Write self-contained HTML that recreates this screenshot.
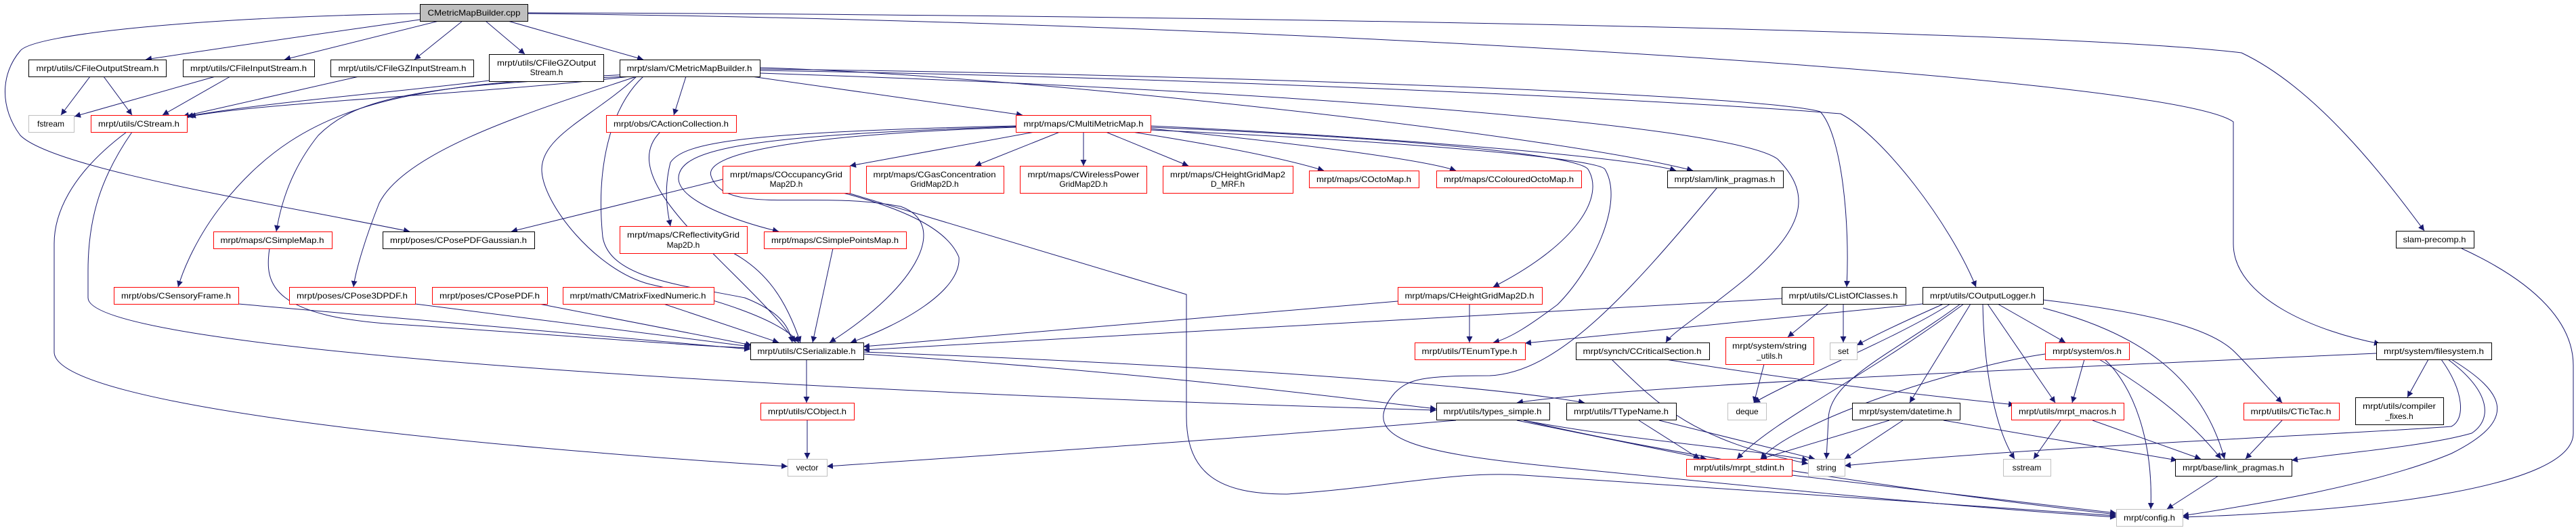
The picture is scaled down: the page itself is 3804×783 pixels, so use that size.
<!DOCTYPE html>
<html><head><meta charset="utf-8"><style>
html,body{margin:0;padding:0;background:#fff;}
svg{display:block;}
text{font-family:"Liberation Sans",sans-serif;font-size:12px;fill:#000;}
.e{fill:none;stroke:#191970;stroke-width:1;}
</style></head><body>
<svg width="3804" height="783" viewBox="0 0 3804 783" xmlns="http://www.w3.org/2000/svg">
<defs><marker id="a" viewBox="0 0 10 10" refX="10" refY="5" markerWidth="9" markerHeight="9" orient="auto" markerUnits="userSpaceOnUse"><path d="M0,0 L10,5 L0,10 z" fill="#191970"/></marker></defs>
<g class="e" marker-end="url(#a)">
<path d="M620,29 Q400,60 215,88"/>
<path d="M648,31 L420,88"/>
<path d="M683,31 L612,88"/>
<path d="M717,31 L775,80"/>
<path d="M750,31 L950,88"/>
<path d="M620,20 C300,25 50,50 30,75 C0,110 0,160 30,200 C80,250 400,300 605,342"/>
<path d="M779,19 C1500,20 3000,40 3310,78 C3420,130 3520,260 3580,341"/>
<path d="M779,20 C1800,30 3200,110 3298,180 L3298,360 C3298,440 3420,490 3515,508"/>
<path d="M133,113 L90,170"/>
<path d="M153,113 L195,170"/>
<path d="M318,113 L110,172"/>
<path d="M340,113 L240,170"/>
<path d="M530,113 L270,172"/>
<path d="M722,119 C600,135 400,150 276,172"/>
<path d="M930,113 C700,140 400,150 280,172"/>
<path d="M1013,113 L995,170"/>
<path d="M1110,113 L1510,170"/>
<path d="M930,113 C600,125 520,150 470,200 C430,250 415,300 408,342"/>
<path d="M930,110 C600,125 450,150 330,300 C290,350 270,400 263,424"/>
<path d="M940,113 C800,160 600,220 560,300 C540,350 525,400 522,424"/>
<path d="M1067,265 L755,342"/>
<path d="M940,113 C880,170 800,200 800,250 C800,300 880,400 960,420 C1050,440 1150,470 1180,506"/>
<path d="M950,113 C900,160 880,250 890,350 C900,410 1000,420 1100,440 C1150,460 1165,480 1170,506"/>
<path d="M1122,100 C1500,110 2300,200 2500,252"/>
<path d="M1122,102 C1800,110 2600,140 2688,165 C2720,200 2732,330 2727,424"/>
<path d="M1122,104 C1800,115 2500,150 2718,168 C2780,200 2880,330 2918,424"/>
<path d="M1122,108 C1800,130 2550,180 2625,235 C2680,290 2660,340 2580,410 C2520,460 2470,490 2460,506"/>
<path d="M1528,195 L1255,245"/>
<path d="M1565,195 L1440,245"/>
<path d="M1600,195 L1600,245"/>
<path d="M1633,195 L1755,245"/>
<path d="M1672,195 C1800,215 1900,235 1955,252"/>
<path d="M1699,190 C1900,210 2100,235 2150,252"/>
<path d="M1699,186 C2000,200 2400,230 2475,252"/>
<path d="M1699,188 C2100,205 2330,230 2345,250 C2370,290 2330,360 2205,424"/>
<path d="M1699,192 C2100,210 2360,235 2370,250 C2400,300 2350,400 2300,450 C2260,480 2230,500 2205,506"/>
<path d="M1500,186 C1100,195 1010,210 990,240 C980,280 985,310 990,334"/>
<path d="M1500,187 C1100,200 1000,220 1002,265 C1005,300 1100,330 1150,342"/>
<path d="M1500,188 C1150,200 1040,230 1050,260 C1070,320 1200,280 1330,305 C1400,330 1360,420 1225,506"/>
<path d="M1245,285 C1340,310 1400,340 1416,380 C1420,430 1330,480 1256,506"/>
<path d="M1252,285 C1500,360 1700,420 1752,435 L1752,615 C1752,700 1800,730 1900,730 C2050,720 2150,695 2250,702 C2500,720 2900,745 3125,762"/>
<path d="M1191,531 L1191,595"/>
<path d="M1275,523 C1700,550 2000,590 2121,604"/>
<path d="M1275,520 C1800,540 2200,570 2340,595"/>
<path d="M1192,621 L1192,678"/>
<path d="M187,195 C100,260 80,320 80,360 L80,520 C80,600 700,660 1163,689"/>
<path d="M195,195 C150,260 130,320 130,400 L130,440 C130,520 1200,580 2121,606"/>
<path d="M352,449 L1108,516"/>
<path d="M613,449 L1108,512"/>
<path d="M796,449 L1110,510"/>
<path d="M980,449 L1150,506"/>
<path d="M398,367 C390,420 400,470 600,480 C900,500 1000,510 1108,514"/>
<path d="M975,195 C900,270 1100,400 1175,506"/>
<path d="M1083,374 C1130,400 1160,440 1182,506"/>
<path d="M1230,367 L1200,506"/>
<path d="M2064,445 L1275,512"/>
<path d="M2631,441 L1275,517"/>
<path d="M2170,449 L2170,506"/>
<path d="M2700,449 L2640,498"/>
<path d="M2722,449 L2722,506"/>
<path d="M2839,449 L2252,507"/>
<path d="M2870,449 C2800,480 2760,500 2742,510"/>
<path d="M2880,449 C2800,500 2650,560 2590,595"/>
<path d="M2895,449 C2800,520 2700,560 2700,620 L2697,678"/>
<path d="M2900,449 C2750,560 2620,620 2565,678"/>
<path d="M2910,449 L2820,595"/>
<path d="M2950,449 L3050,506"/>
<path d="M2935,449 L3035,595"/>
<path d="M2928,449 C2930,560 2950,640 2975,678"/>
<path d="M3017,455 C3150,490 3250,550 3285,678"/>
<path d="M3017,443 C3200,465 3270,490 3300,520 C3330,550 3355,580 3370,595"/>
<path d="M3509,522 C3000,545 2400,570 2240,595"/>
<path d="M2380,531 C2450,600 2500,650 2670,685"/>
<path d="M2460,531 C2700,570 2900,590 2975,598"/>
<path d="M2605,538 L2590,595"/>
<path d="M2150,621 C1800,650 1500,670 1221,689"/>
<path d="M2240,621 L2520,678"/>
<path d="M2250,621 C2400,650 2600,665 2670,680"/>
<path d="M2420,621 L2510,678"/>
<path d="M2450,621 L2680,678"/>
<path d="M2790,621 L2600,678"/>
<path d="M2810,621 L2724,678"/>
<path d="M2870,621 L3215,680"/>
<path d="M3020,523 C2900,540 2650,620 2600,678"/>
<path d="M3078,531 L3060,595"/>
<path d="M3100,531 C3200,590 3250,640 3280,678"/>
<path d="M3108,531 C3150,570 3180,650 3176,752"/>
<path d="M3043,621 L3003,678"/>
<path d="M3090,621 L3250,678"/>
<path d="M3370,621 L3316,678"/>
<path d="M3586,531 L3555,587"/>
<path d="M3605,531 C3640,580 3640,620 3620,630 C3500,640 3000,660 2724,688"/>
<path d="M3615,531 C3680,580 3680,620 3650,640 C3580,660 3450,670 3384,680"/>
<path d="M3620,531 C3700,580 3720,620 3620,670 C3500,720 3300,750 3223,762"/>
<path d="M3635,367 C3750,420 3800,480 3800,540 L3800,640 C3800,720 3500,755 3223,764"/>
<path d="M3276,703 L3200,752"/>
<path d="M2646,702 L3125,758"/>
<path d="M2535,278 C2400,440 2300,550 2200,555 C2100,555 2080,560 2060,580 C2000,650 2100,670 2300,690 C2600,720 2900,750 3125,764"/>
<path d="M2250,621 C2500,680 2900,735 3125,760"/>
</g>
<g stroke-width="1">
<rect x="620.5" y="6.5" width="159" height="25" fill="#bfbfbf" stroke="#000"/><text x="700" y="23" text-anchor="middle" textLength="137" lengthAdjust="spacingAndGlyphs">CMetricMapBuilder.cpp</text>
<g fill="#fff" stroke="#000">
<rect x="42.5" y="88.5" width="203" height="25"/>
<rect x="270.5" y="88.5" width="194" height="25"/>
<rect x="488.5" y="88.5" width="211" height="25"/>
<rect x="722.5" y="80.5" width="169" height="40"/>
<rect x="915.5" y="88.5" width="207" height="25"/>
<rect x="565.5" y="342.5" width="224" height="25"/>
<rect x="2462.5" y="252.5" width="171" height="25"/>
<rect x="3538.5" y="341.5" width="115" height="25"/>
<rect x="2631.5" y="424.5" width="183" height="25"/>
<rect x="2839.5" y="424.5" width="178" height="25"/>
<rect x="1108.5" y="506.5" width="167" height="25"/>
<rect x="2327.5" y="506.5" width="197" height="25"/>
<rect x="3509.5" y="506.5" width="170" height="25"/>
<rect x="2121.5" y="595.5" width="167" height="25"/>
<rect x="2313.5" y="595.5" width="162" height="25"/>
<rect x="2735.5" y="595.5" width="159" height="25"/>
<rect x="3478.5" y="587.5" width="130" height="40"/>
<rect x="3212.5" y="678.5" width="172" height="25"/>
</g>
<g fill="#fff" stroke="#ff0000">
<rect x="134.5" y="170.5" width="142" height="25"/>
<rect x="895.5" y="170.5" width="192" height="25"/>
<rect x="1500.5" y="170.5" width="199" height="25"/>
<rect x="1067.5" y="245.5" width="188" height="40"/>
<rect x="1279.5" y="245.5" width="203" height="40"/>
<rect x="1506.5" y="245.5" width="187" height="40"/>
<rect x="1717.5" y="245.5" width="192" height="40"/>
<rect x="1933.5" y="252.5" width="162" height="25"/>
<rect x="2121.5" y="252.5" width="214" height="25"/>
<rect x="315.5" y="342.5" width="175" height="25"/>
<rect x="915.5" y="334.5" width="188" height="40"/>
<rect x="1128.5" y="342.5" width="210" height="25"/>
<rect x="168.5" y="424.5" width="184" height="25"/>
<rect x="427.5" y="424.5" width="186" height="25"/>
<rect x="638.5" y="424.5" width="170" height="25"/>
<rect x="831.5" y="424.5" width="223" height="25"/>
<rect x="2064.5" y="424.5" width="213" height="25"/>
<rect x="2089.5" y="506.5" width="163" height="25"/>
<rect x="2548.5" y="498.5" width="130" height="40"/>
<rect x="3020.5" y="506.5" width="124" height="25"/>
<rect x="1123.5" y="595.5" width="138" height="25"/>
<rect x="2970.5" y="595.5" width="166" height="25"/>
<rect x="3313.5" y="595.5" width="141" height="25"/>
<rect x="2490.5" y="678.5" width="156" height="25"/>
</g>
<g fill="#fff" stroke="#bfbfbf">
<rect x="42.5" y="170.5" width="67" height="25"/>
<rect x="2702.5" y="506.5" width="40" height="25"/>
<rect x="2551.5" y="595.5" width="57" height="25"/>
<rect x="1163.5" y="678.5" width="58" height="25"/>
<rect x="2670.5" y="678.5" width="54" height="25"/>
<rect x="2958.5" y="678.5" width="70" height="25"/>
<rect x="3125.5" y="752.5" width="98" height="25"/>
</g>
</g>
<g text-anchor="middle" lengthAdjust="spacingAndGlyphs">
<text x="144" y="105" textLength="181" lengthAdjust="spacingAndGlyphs">mrpt/utils/CFileOutputStream.h</text>
<text x="367" y="105" textLength="172" lengthAdjust="spacingAndGlyphs">mrpt/utils/CFileInputStream.h</text>
<text x="594" y="105" textLength="189" lengthAdjust="spacingAndGlyphs">mrpt/utils/CFileGZInputStream.h</text>
<text x="807" y="97" textLength="146" lengthAdjust="spacingAndGlyphs">mrpt/utils/CFileGZOutput</text>
<text x="807" y="111">Stream.h</text>
<text x="1018" y="105" textLength="185" lengthAdjust="spacingAndGlyphs">mrpt/slam/CMetricMapBuilder.h</text>
<text x="75" y="187">fstream</text>
<text x="205" y="187" textLength="120" lengthAdjust="spacingAndGlyphs">mrpt/utils/CStream.h</text>
<text x="991" y="187" textLength="170" lengthAdjust="spacingAndGlyphs">mrpt/obs/CActionCollection.h</text>
<text x="1600" y="187" textLength="177" lengthAdjust="spacingAndGlyphs">mrpt/maps/CMultiMetricMap.h</text>
<text x="1161" y="262" textLength="166" lengthAdjust="spacingAndGlyphs">mrpt/maps/COccupancyGrid</text>
<text x="1161" y="276">Map2D.h</text>
<text x="1380" y="262" textLength="181" lengthAdjust="spacingAndGlyphs">mrpt/maps/CGasConcentration</text>
<text x="1380" y="276">GridMap2D.h</text>
<text x="1600" y="262" textLength="165" lengthAdjust="spacingAndGlyphs">mrpt/maps/CWirelessPower</text>
<text x="1600" y="276">GridMap2D.h</text>
<text x="1813" y="262" textLength="170" lengthAdjust="spacingAndGlyphs">mrpt/maps/CHeightGridMap2</text>
<text x="1813" y="276">D_MRF.h</text>
<text x="2014" y="269" textLength="140" lengthAdjust="spacingAndGlyphs">mrpt/maps/COctoMap.h</text>
<text x="2228" y="269" textLength="192" lengthAdjust="spacingAndGlyphs">mrpt/maps/CColouredOctoMap.h</text>
<text x="2547" y="269" textLength="149" lengthAdjust="spacingAndGlyphs">mrpt/slam/link_pragmas.h</text>
<text x="402" y="359" textLength="153" lengthAdjust="spacingAndGlyphs">mrpt/maps/CSimpleMap.h</text>
<text x="677" y="359" textLength="202" lengthAdjust="spacingAndGlyphs">mrpt/poses/CPosePDFGaussian.h</text>
<text x="1009" y="351" textLength="166" lengthAdjust="spacingAndGlyphs">mrpt/maps/CReflectivityGrid</text>
<text x="1009" y="366">Map2D.h</text>
<text x="1233" y="359" textLength="188" lengthAdjust="spacingAndGlyphs">mrpt/maps/CSimplePointsMap.h</text>
<text x="3595" y="358" textLength="93" lengthAdjust="spacingAndGlyphs">slam-precomp.h</text>
<text x="260" y="441" textLength="162" lengthAdjust="spacingAndGlyphs">mrpt/obs/CSensoryFrame.h</text>
<text x="520" y="441" textLength="164" lengthAdjust="spacingAndGlyphs">mrpt/poses/CPose3DPDF.h</text>
<text x="723" y="441" textLength="148" lengthAdjust="spacingAndGlyphs">mrpt/poses/CPosePDF.h</text>
<text x="942" y="441" textLength="201" lengthAdjust="spacingAndGlyphs">mrpt/math/CMatrixFixedNumeric.h</text>
<text x="2170" y="441" textLength="191" lengthAdjust="spacingAndGlyphs">mrpt/maps/CHeightGridMap2D.h</text>
<text x="2722" y="441" textLength="161" lengthAdjust="spacingAndGlyphs">mrpt/utils/CListOfClasses.h</text>
<text x="2928" y="441" textLength="156" lengthAdjust="spacingAndGlyphs">mrpt/utils/COutputLogger.h</text>
<text x="1191" y="523" textLength="145" lengthAdjust="spacingAndGlyphs">mrpt/utils/CSerializable.h</text>
<text x="2170" y="523" textLength="141" lengthAdjust="spacingAndGlyphs">mrpt/utils/TEnumType.h</text>
<text x="2425" y="523" textLength="175" lengthAdjust="spacingAndGlyphs">mrpt/synch/CCriticalSection.h</text>
<text x="2613" y="515" textLength="110" lengthAdjust="spacingAndGlyphs">mrpt/system/string</text>
<text x="2613" y="530">_utils.h</text>
<text x="2722" y="523">set</text>
<text x="3082" y="523" textLength="102" lengthAdjust="spacingAndGlyphs">mrpt/system/os.h</text>
<text x="3594" y="523" textLength="148" lengthAdjust="spacingAndGlyphs">mrpt/system/filesystem.h</text>
<text x="1192" y="612" textLength="116" lengthAdjust="spacingAndGlyphs">mrpt/utils/CObject.h</text>
<text x="2204" y="612" textLength="145" lengthAdjust="spacingAndGlyphs">mrpt/utils/types_simple.h</text>
<text x="2394" y="612" textLength="140" lengthAdjust="spacingAndGlyphs">mrpt/utils/TTypeName.h</text>
<text x="2580" y="612">deque</text>
<text x="2814" y="612" textLength="137" lengthAdjust="spacingAndGlyphs">mrpt/system/datetime.h</text>
<text x="3053" y="612" textLength="144" lengthAdjust="spacingAndGlyphs">mrpt/utils/mrpt_macros.h</text>
<text x="3383" y="612" textLength="119" lengthAdjust="spacingAndGlyphs">mrpt/utils/CTicTac.h</text>
<text x="3543" y="604" textLength="108" lengthAdjust="spacingAndGlyphs">mrpt/utils/compiler</text>
<text x="3543" y="619">_fixes.h</text>
<text x="1192" y="695">vector</text>
<text x="2568" y="695" textLength="134" lengthAdjust="spacingAndGlyphs">mrpt/utils/mrpt_stdint.h</text>
<text x="2697" y="695">string</text>
<text x="2993" y="695">sstream</text>
<text x="3298" y="695" textLength="150" lengthAdjust="spacingAndGlyphs">mrpt/base/link_pragmas.h</text>
<text x="3174" y="769" textLength="76" lengthAdjust="spacingAndGlyphs">mrpt/config.h</text>
</g>
</svg>
</body></html>
